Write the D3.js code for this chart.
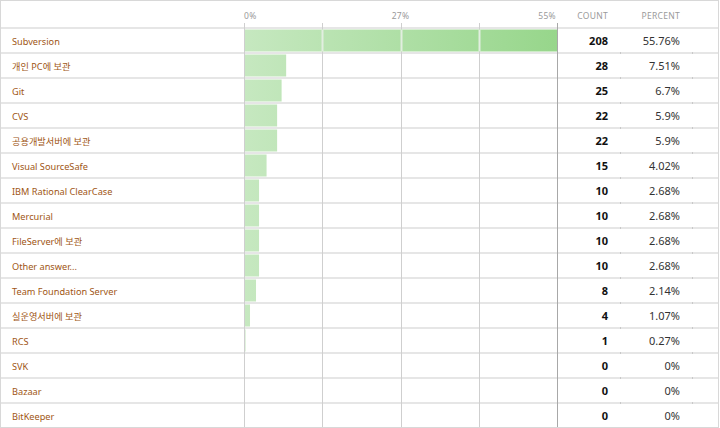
<!DOCTYPE html>
<html><head><meta charset="utf-8">
<script src="https://cdn.jsdelivr.net/npm/d3@7"></script>
<style>
html,body{margin:0;padding:0;background:#fff;}
svg{display:block;font-family:"Noto Sans","Noto Sans CJK KR",sans-serif;}
</style></head>
<body>
<svg id="c" width="720" height="428"></svg>
<script>
const categories = ["Subversion","개인 PC에 보관","Git","CVS","공용개발서버에 보관","Visual SourceSafe","IBM Rational ClearCase","Mercurial","FileServer에 보관","Other answer...","Team Foundation Server","실운영서버에 보관","RCS","SVK","Bazaar","BitKeeper"];
const counts = [208,28,25,22,22,15,10,10,10,10,8,4,1,0,0,0];
const percents = ["55.76%","7.51%","6.7%","5.9%","5.9%","4.02%","2.68%","2.68%","2.68%","2.68%","2.14%","1.07%","0.27%","0%","0%","0%"];
const pctValues = [55.76,7.51,6.7,5.9,5.9,4.02,2.68,2.68,2.68,2.68,2.14,1.07,0.27,0,0,0];
const tickLabels = ["0%","27%","55%"];
const headers = ["COUNT","PERCENT"];

const svg = d3.select("#c");
const W = 720, H = 428, headerH = 28, rowH = 25;
const x0 = 244, x1 = 557;
const maxV = d3.max(pctValues);
const x = d3.scaleLinear().domain([0, maxV]).range([x0, x1]);
const y = d3.scaleBand().domain(categories).range([headerH, headerH + rowH*categories.length]);

const defs = svg.append("defs");
const grad = defs.append("linearGradient").attr("id","g").attr("gradientUnits","userSpaceOnUse")
  .attr("x1",x0).attr("x2",x1).attr("y1",0).attr("y2",0);
grad.append("stop").attr("offset","0%").attr("stop-color","#c6e8c0");
grad.append("stop").attr("offset","100%").attr("stop-color","#97d68b");

// row separators
svg.selectAll("line.row").data(d3.range(categories.length+1)).join("line")
  .attr("x1",1).attr("x2",W-2)
  .attr("y1",i=>headerH + i*rowH).attr("y2",i=>headerH + i*rowH)
  .attr("stroke","#e6e6e6").attr("stroke-width",2);

// gridlines
const grid = [0, 0.25, 0.5, 0.75].map(f=>f*maxV);
svg.selectAll("line.grid").data(grid).join("line")
  .attr("x1",d=>Math.round(x(d))+0.5).attr("x2",d=>Math.round(x(d))+0.5)
  .attr("y1",23).attr("y2",H)
  .attr("stroke","#cfcfcf").attr("stroke-width",1);

// bars
svg.selectAll("rect.bar").data(categories).join("rect")
  .attr("x",x0+1)
  .attr("y",d=>y(d)+1.5)
  .attr("width",(d,i)=>Math.max(0, x(pctValues[i]) - x0 - 1))
  .attr("height",rowH-3)
  .attr("fill","url(#g)");

// light gaps where gridlines cross bars
const gaps = [];
pctValues.forEach((v,i)=>{ grid.slice(1).forEach(g=>{ if (v > g) gaps.push({c:categories[i], g}); }); });
svg.selectAll("rect.gap").data(gaps).join("rect")
  .attr("x",d=>Math.round(x(d.g))-0.5).attr("width",2)
  .attr("y",d=>y(d.c)+1.5).attr("height",rowH-3)
  .attr("fill","#e2eee0");

// column divider
svg.append("line").attr("x1",x1+0.5).attr("x2",x1+0.5).attr("y1",23).attr("y2",H)
  .attr("stroke","#a8a8a8").attr("stroke-width",1);

// small tick marks at column ends
[620,692].forEach(px=>{
  svg.selectAll(null).data(d3.range(1,categories.length)).join("line")
    .attr("x1",px+0.5).attr("x2",px+0.5)
    .attr("y1",i=>headerH+i*rowH-1).attr("y2",i=>headerH+i*rowH+1)
    .attr("stroke","#c8c8c8");
});

// axis tick labels
const tickPos = [0, maxV/2, maxV];
svg.selectAll("text.tick").data(tickLabels).join("text")
  .attr("x",(d,i)=>x(tickPos[i]) + (i===2?-1:0))
  .attr("y",19)
  .attr("text-anchor",(d,i)=>i===0?"start":(i===1?"middle":"end"))
  .attr("font-size",8.5).attr("fill","#9a9a9a").attr("letter-spacing",0.3)
  .text(d=>d);

// headers
svg.append("text").attr("x",608).attr("y",19).attr("text-anchor","end")
  .attr("font-size",8.5).attr("fill","#9a9a9a").attr("letter-spacing",0.3).text(headers[0]);
svg.append("text").attr("x",680).attr("y",19).attr("text-anchor","end")
  .attr("font-size",8.5).attr("fill","#9a9a9a").attr("letter-spacing",0.3).text(headers[1]);

// labels
svg.selectAll("text.lab").data(categories).join("text")
  .attr("x",12).attr("y",d=>y(d)+rowH/2+4)
  .attr("font-size",9.2).attr("fill","#a05614")
  .text(d=>d);

// counts
svg.selectAll("text.cnt").data(counts).join("text")
  .attr("x",608).attr("y",(d,i)=>y(categories[i])+rowH/2+4.5)
  .attr("text-anchor","end").attr("font-size",11).attr("font-weight","bold").attr("fill","#111")
  .text(d=>d);

// percents
svg.selectAll("text.pct").data(percents).join("text")
  .attr("x",680).attr("y",(d,i)=>y(categories[i])+rowH/2+4.5)
  .attr("text-anchor","end").attr("font-size",11).attr("fill","#333")
  .text(d=>d);

// outer frame
svg.append("rect").attr("x",0.5).attr("y",0.5).attr("width",W-2).attr("height",H-1)
  .attr("fill","none").attr("stroke","#d8d8d8");
</script>
</body></html>
